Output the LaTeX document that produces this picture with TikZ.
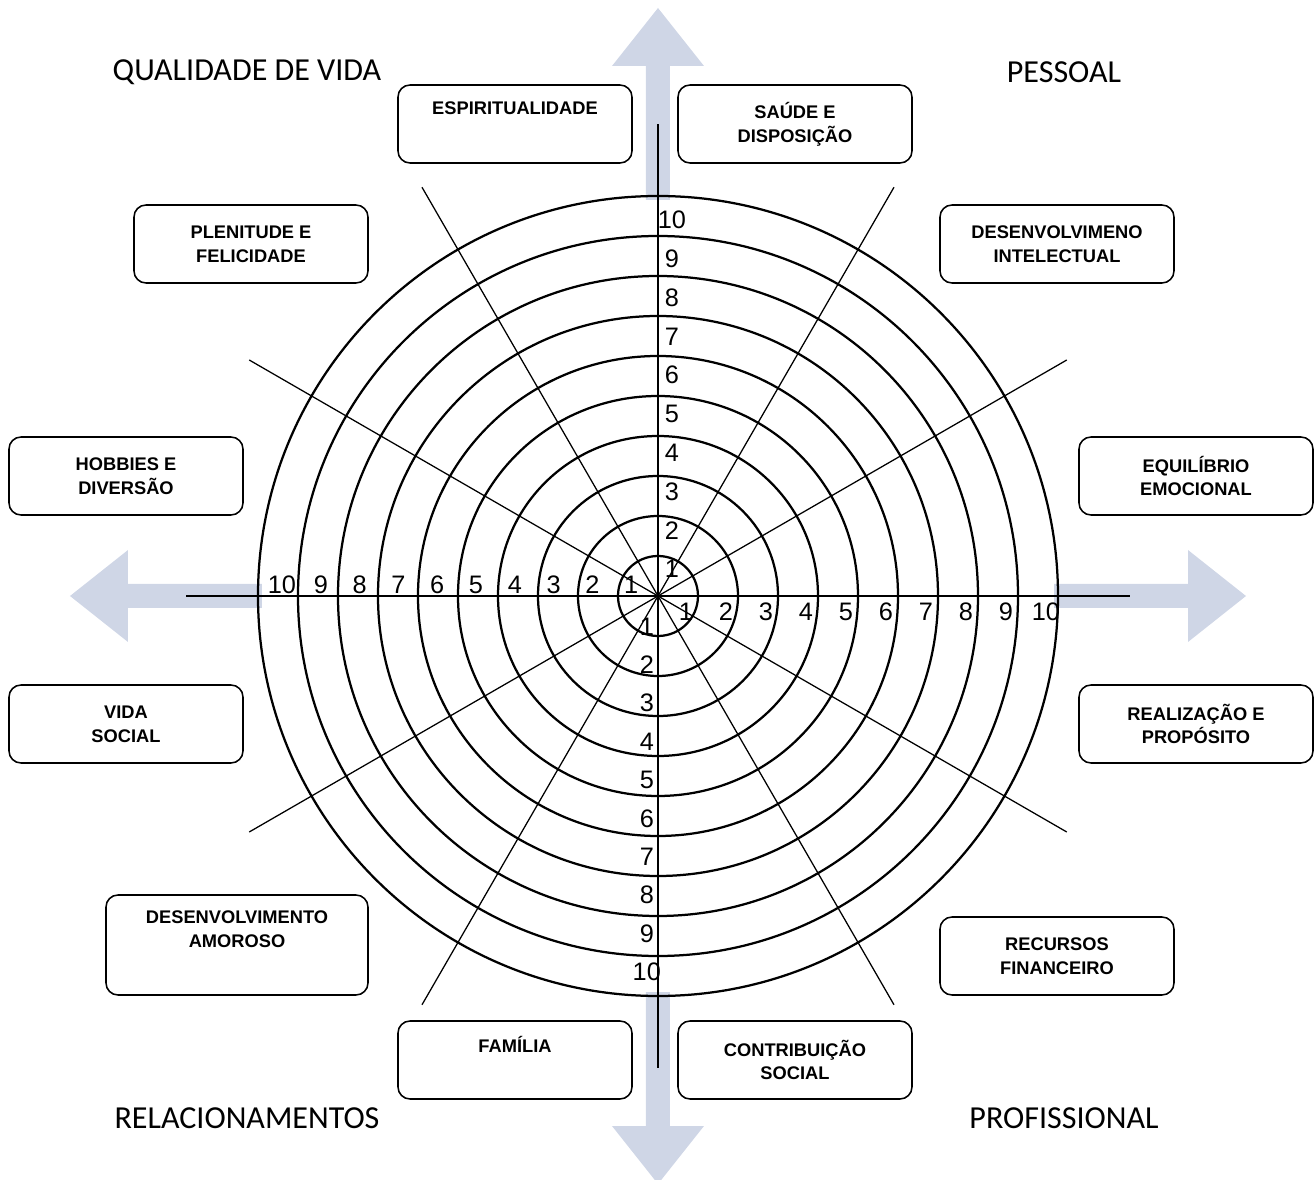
\documentclass[tikz,border=0pt]{standalone}
\usepackage{fontspec}
\setmainfont{Liberation Sans}
\newfontfamily\cornerfont{Carlito}
\definecolor{arrowblue}{RGB}{207,214,230}
\tikzset{
  areabox/.style={draw, line width=1.1pt, rounded corners=0.3cm, minimum width=5.85cm, minimum height=1.95cm, align=center, font=\fontsize{13}{17}\selectfont\bfseries},
  ringnum/.style={font=\fontsize{18}{18}\selectfont, inner sep=0pt},
  quadrant/.style={font=\cornerfont\fontsize{22.8}{26}\selectfont}
}
\begin{document}
\begin{tikzpicture}
        \useasboundingbox (-16.45,-14.6) rectangle (16.45,14.9);
        % arrows
        \foreach \a in {0,90,180,270}
          \fill[arrowblue, rotate=\a] (9.9,-0.3) -- (13.25,-0.3) -- (13.25,-1.15) -- (14.7,0) -- (13.25,1.15) -- (13.25,0.3) -- (9.9,0.3) -- cycle;
        % wheel
        \foreach \r in {1,...,10}
          \draw[line width=1.6pt] (0,0) circle (\r);
        \foreach \a in {0,30,...,330}
          \draw[line width=0.9pt] (0,0) -- (\a:11.8);
        % scale numbers
        \foreach \k in {1,...,10} {
          \node[ringnum] (top\k) at (0.35, {0.97*\k-0.3}) {\k};
          \node[ringnum] (right\k) at ({\k-0.3}, -0.4) {\k};
          \node[ringnum] (left\k) at ({-0.97*\k+0.3}, 0.28) {\k};
          \node[ringnum] (bottom\k) at (-0.28, {-0.96*\k+0.2}) {\k};
        }
        % areas
        \node[areabox] (espiritualidade) at (-3.575, 11.8) {ESPIRITUALIDADE\\ \strut};
        \node[areabox] (saude) at (3.425, 11.8) {SAÚDE E\\DISPOSIÇÃO};
        \node[areabox] (plenitude) at (-10.175, 8.8) {PLENITUDE E\\FELICIDADE};
        \node[areabox] (intelectual) at (9.975, 8.8) {DESENVOLVIMENO\\INTELECTUAL};
        \node[areabox] (hobbies) at (-13.3, 3) {HOBBIES E\\DIVERSÃO};
        \node[areabox] (emocional) at (13.45, 3) {EQUILÍBRIO\\EMOCIONAL};
        \node[areabox] (social) at (-13.3, -3.2) {VIDA\\SOCIAL};
        \node[areabox] (realizacao) at (13.45, -3.2) {REALIZAÇÃO E\\PROPÓSITO};
        \node[areabox, minimum width=6.55cm, minimum height=2.5cm] (amoroso) at (-10.525, -8.725) {DESENVOLVIMENTO\\AMOROSO\\ \strut};
        \node[areabox] (recursos) at (9.975, -9) {RECURSOS\\FINANCEIRO};
        \node[areabox] (familia) at (-3.575, -11.6) {FAMÍLIA\\ \strut};
        \node[areabox] (contribuicao) at (3.425, -11.6) {CONTRIBUIÇÃO\\SOCIAL};
        % quadrants
        \node[quadrant] (qualidade) at (-10.275, 13.1) {QUALIDADE DE VIDA};
        \node[quadrant] (pessoal) at (10.15, 13.1) {PESSOAL};
        \node[quadrant] (relacionamentos) at (-10.275, -13.05) {RELACIONAMENTOS};
        \node[quadrant] (profissional) at (10.15, -13.05) {PROFISSIONAL};
      \end{tikzpicture}
\end{document}
